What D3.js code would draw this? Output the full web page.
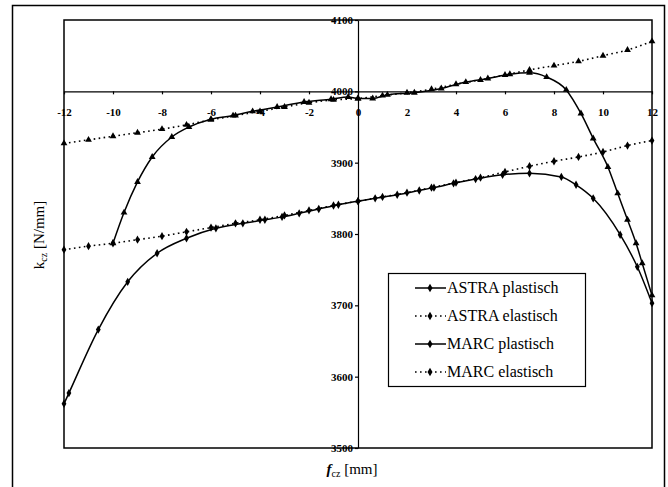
<!DOCTYPE html>
<html>
<head>
<meta charset="utf-8">
<script src="https://cdn.jsdelivr.net/npm/d3@7"></script>
<style>
  body { margin: 0; background: #fff; }
  svg { display: block; font-family: "Liberation Serif", "Times New Roman", serif; }
</style>
</head>
<body>
<svg></svg>
<script>
// f_cz positions [mm] and k_cz values [N/mm]
let astraPlastX = [-12, -11.8, -10.6, -9.4, -8.2, -7, -5.8, -4.7, -3.8, -3.1, -2.4, -1.6, -0.8, 0, 0.7, 1.6, 2.5, 3.1, 3.9, 4.8, 5.9, 7, 8.3, 8.9, 9.6, 10.7, 11.4, 12]
let astraPlastY = [3562, 3577, 3666, 3733, 3773, 3794, 3808, 3815, 3820, 3824, 3829, 3835, 3841, 3846, 3850, 3855, 3861, 3865, 3871, 3877, 3883, 3885, 3880, 3869, 3850, 3799, 3754, 3703]

let elastX = [-12, -11, -10, -9, -8, -7, -6, -5, -4, -3, -2, -1, 0, 1, 2, 3, 4, 5, 6, 7, 8, 9, 10, 11, 12]
let astraElastY = [3778, 3783, 3787, 3792, 3797, 3803, 3809, 3815, 3820, 3826, 3833, 3840, 3846, 3852, 3858, 3865, 3872, 3879, 3887, 3895, 3902, 3908, 3915, 3924, 3931]

let marcPlastX = [-10, -9.55, -9, -8.4, -7.6, -6.9, -6, -5.1, -4.3, -3.3, -2.2, -1.1, -0.4, 0, 0.6, 1.2, 2.3, 3.4, 4.4, 5.3, 6.2, 7, 7.7, 8.5, 9.1, 9.6, 10.2, 10.6, 11, 11.35, 11.6, 12]
let marcPlastY = [3787, 3830, 3873, 3908, 3936, 3950, 3961, 3966, 3972, 3978, 3985, 3989, 3992, 3990, 3990, 3995, 3998, 4004, 4013, 4018, 4024, 4026, 4020, 4002, 3969, 3934, 3894, 3857, 3820, 3787, 3759, 3714]

let marcElastY = [3927, 3932, 3937, 3942, 3947, 3953, 3960, 3966, 3972, 3978, 3984, 3988, 3990, 3994, 3998, 4003, 4010, 4016, 4023, 4030, 4036, 4042, 4050, 4058, 4070]

let seriesNames = ["ASTRA plastisch", "ASTRA elastisch", "MARC plastisch", "MARC elastisch"]
let xTicks = [-12, -10, -8, -6, -4, -2, 0, 2, 4, 6, 8, 10, 12]
let yTicks = [3500, 3600, 3700, 3800, 3900, 4000, 4100]

let width = 668
let height = 487

let svg = d3.select("svg")
  .attr("width", width)
  .attr("height", height)

let xScale = d3.scaleLinear().domain([-12, 12]).range([64, 652])
let yScale = d3.scaleLinear().domain([3500, 4100]).range([448, 20])

let zip = (xs, ys) => xs.map((x, i) => ({ x: x, y: ys[i] }))

let series = [
  { name: seriesNames[0], pts: zip(astraPlastX, astraPlastY), dotted: false, symbol: d3.symbolDiamond },
  { name: seriesNames[1], pts: zip(elastX, astraElastY), dotted: true, symbol: d3.symbolDiamond },
  { name: seriesNames[2], pts: zip(marcPlastX, marcPlastY), dotted: false, symbol: d3.symbolTriangle },
  { name: seriesNames[3], pts: zip(elastX, marcElastY), dotted: true, symbol: d3.symbolTriangle }
]

// outer frame (runs off the bottom like the scan)
svg.append("rect")
   .attr("x", 12.5).attr("y", 5.5)
   .attr("width", 652).attr("height", 500)
   .attr("fill", "none").attr("stroke", "#000").attr("stroke-width", 1.5)

// plot box
svg.append("rect")
   .attr("x", xScale(-12)).attr("y", yScale(4100))
   .attr("width", xScale(12) - xScale(-12)).attr("height", yScale(3500) - yScale(4100))
   .attr("fill", "none").attr("stroke", "#000").attr("stroke-width", 1.5)

// x axis sits on the 4000 line
let xAxis = d3.axisBottom(xScale)
              .tickValues(xTicks)
              .tickSizeInner(3).tickSizeOuter(0)
              .tickPadding(14)
              .tickFormat(d => d)
svg.append("g")
   .attr("transform", "translate(0, " + yScale(4000) + ")")
   .call(xAxis)

// y axis sits on f = 0
let yAxis = d3.axisLeft(yScale)
              .tickValues(yTicks)
              .tickSizeInner(3).tickSizeOuter(0)
              .tickPadding(2)
              .tickFormat(d => d)
svg.append("g")
   .attr("transform", "translate(" + xScale(0) + ", 0)")
   .call(yAxis)

svg.selectAll(".tick text")
   .style("font-family", "'Liberation Serif', serif")
   .style("font-size", "11px")
   .style("font-weight", "bold")
   .attr("fill", "#000")
svg.selectAll(".domain, .tick line").attr("stroke", "#000").attr("stroke-width", 1.2)

// axis titles
let yTitle = svg.append("text")
   .attr("transform", "translate(44, 235) rotate(-90)")
   .attr("text-anchor", "middle")
   .attr("font-size", 15)
yTitle.append("tspan").text("k")
yTitle.append("tspan").attr("font-size", 10).attr("dy", 3).text("cz")
yTitle.append("tspan").attr("dy", -3).text(" [N/mm]")

let xTitle = svg.append("text")
   .attr("x", 352).attr("y", 474)
   .attr("text-anchor", "middle")
   .attr("font-size", 15)
xTitle.append("tspan").attr("font-style", "italic").attr("font-weight", "bold").text("f")
xTitle.append("tspan").attr("font-size", 10).attr("dy", 3).text("cz")
xTitle.append("tspan").attr("dy", -3).text(" [mm]")

// curves
let line = d3.line()
             .x(d => xScale(d.x))
             .y(d => yScale(d.y))
             .curve(d3.curveMonotoneX)

series.forEach(s => {
  svg.append("path")
     .datum(s.pts)
     .attr("d", line)
     .attr("fill", "none")
     .attr("stroke", "#000")
     .attr("stroke-width", s.dotted ? 1.6 : 1.5)
     .attr("stroke-dasharray", s.dotted ? "1.6,3.4" : null)

  svg.append("g")
     .selectAll("path")
     .data(s.pts)
     .enter()
     .append("path")
     .attr("transform", d => "translate(" + xScale(d.x) + "," + yScale(d.y) + ")")
     .attr("d", d3.symbol(s.symbol, 20))
     .attr("fill", "#000")
})

// legend
let legend = svg.append("g")
legend.append("rect")
   .attr("x", 388.5).attr("y", 273.5)
   .attr("width", 197).attr("height", 113)
   .attr("fill", "#fff").attr("stroke", "#000").attr("stroke-width", 1.2)

series.forEach((s, i) => {
  let ly = 288 + i * 28
  legend.append("line")
        .attr("x1", 415).attr("x2", 446)
        .attr("y1", ly).attr("y2", ly)
        .attr("stroke", "#000")
        .attr("stroke-width", 1.5)
        .attr("stroke-dasharray", s.dotted ? "1.6,3.4" : null)
  legend.append("path")
        .attr("transform", "translate(430," + ly + ")")
        .attr("d", d3.symbol(d3.symbolDiamond, 22))
        .attr("fill", "#000")
  legend.append("text")
        .attr("x", 447).attr("y", ly + 5)
        .attr("font-size", 16)
        .text(s.name)
})
</script>
</body>
</html>
